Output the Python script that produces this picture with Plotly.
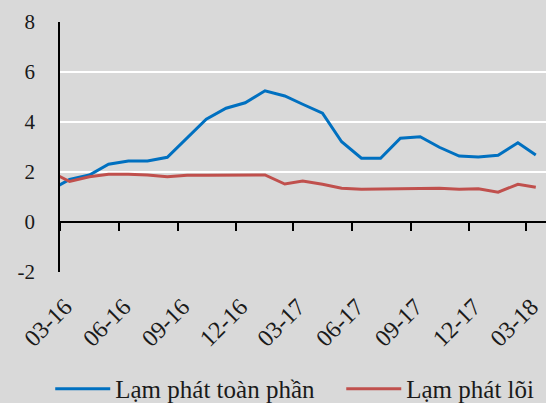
import plotly.graph_objects as go

# monthly observations (first one sits just left of the axis start and gets clipped)
months = [
    "2016-02-16", "2016-03-16", "2016-04-16", "2016-05-16", "2016-06-16",
    "2016-07-16", "2016-08-16", "2016-09-16", "2016-10-16", "2016-11-16",
    "2016-12-16", "2017-01-16", "2017-02-16", "2017-03-16", "2017-04-16",
    "2017-05-16", "2017-06-16", "2017-07-16", "2017-08-16", "2017-09-16",
    "2017-10-16", "2017-11-16", "2017-12-16", "2018-01-16", "2018-02-16",
    "2018-03-16",
]
headline = [
    1.30, 1.70, 1.88, 2.31, 2.44, 2.44, 2.59, 3.35, 4.11, 4.55, 4.77, 5.25, 5.04,
    4.71, 4.35, 3.21, 2.55, 2.55, 3.35, 3.41, 2.99, 2.64, 2.60, 2.67, 3.17, 2.68,
]
core = [
    2.00, 1.62, 1.81, 1.91, 1.91, 1.88, 1.81, 1.87, 1.87, 1.88, 1.88, 1.88, 1.52,
    1.64, 1.51, 1.35, 1.31, 1.32, 1.33, 1.35, 1.35, 1.31, 1.33, 1.19, 1.51, 1.39,
]
series_names = ["Lạm phát toàn phần", "Lạm phát lõi"]
x_range = ["2016-03-01", "2018-04-01"]
y_ticks = [-2, 0, 2, 4, 6, 8]

BG = "#d9d9d9"
FONT = "Liberation Serif"
TEXT = "#1a1a1a"

fig = go.Figure()
# second series lives on the overlaid x2 axis so that axis (line at y=0 + ticks) gets drawn;
# each series gets its own legend box so the two entries can be placed like the original
for name, values, color, xref, legend_id in [
    (series_names[0], headline, "#0070c0", "x", "legend"),
    (series_names[1], core, "#c0504d", "x2", "legend2"),
]:
    fig.add_trace(
        go.Scatter(
            x=months,
            y=values,
            xaxis=xref,
            mode="lines",
            name=name,
            legend=legend_id,
            line={"color": color, "width": 3},
            hoverinfo="skip",
        )
    )

date_ticks = {"type": "date", "range": x_range, "tick0": "2016-03-01", "dtick": "M3"}


def legend_box(x):
    return {
        "orientation": "h",
        "xref": "container",
        "yref": "container",
        "x": x,
        "xanchor": "left",
        "y": 0.035,
        "yanchor": "middle",
        "font": {"family": FONT, "size": 25, "color": TEXT},
        "itemwidth": 55,
        "bgcolor": "rgba(0,0,0,0)",
    }


fig.update_layout(
    width=546,
    height=403,
    margin={"l": 60, "r": 0, "t": 22, "b": 131, "autoexpand": False},
    paper_bgcolor=BG,
    plot_bgcolor=BG,
    font={"family": FONT, "size": 22, "color": TEXT},
    showlegend=True,
    legend=legend_box(0.092),
    legend2=legend_box(0.625),
    xaxis={
        **date_ticks,
        "tickformat": "%m-%y",
        "tickangle": -45,
        "ticks": "",
        "showgrid": False,
        "showline": False,
        "zeroline": False,
        "automargin": False,
        "ticklabelstandoff": 15,
        "ticklabelshift": 5,
        "ticklabeloverflow": "allow",
        "tickfont": {"family": FONT, "size": 24, "color": TEXT},
    },
    xaxis2={
        **date_ticks,
        "overlaying": "x",
        "anchor": "free",
        "position": 0.2,
        "side": "bottom",
        "ticks": "outside",
        "ticklen": 8,
        "tickwidth": 1.5,
        "tickcolor": "#000000",
        "showticklabels": False,
        "showgrid": False,
        "showline": True,
        "linecolor": "#000000",
        "linewidth": 1.5,
        "zeroline": False,
    },
    yaxis={
        "range": [-2, 8],
        "tickvals": y_ticks,
        "ticktext": [str(v) for v in y_ticks],
        "showgrid": True,
        "gridcolor": "#ffffff",
        "gridwidth": 2,
        "zeroline": False,
        "showline": True,
        "linecolor": "#000000",
        "linewidth": 1.5,
        "ticks": "",
        "automargin": False,
        "ticklabelstandoff": 19,
        "tickfont": {"family": FONT, "size": 21, "color": TEXT},
    },
)

# drop the browser's default 8px body margin so the figure fills the window
fig.write_html(
    "out.html",
    config={"displayModeBar": False},
    post_script="document.body.style.margin='0';document.body.style.background='#d9d9d9';",
)
